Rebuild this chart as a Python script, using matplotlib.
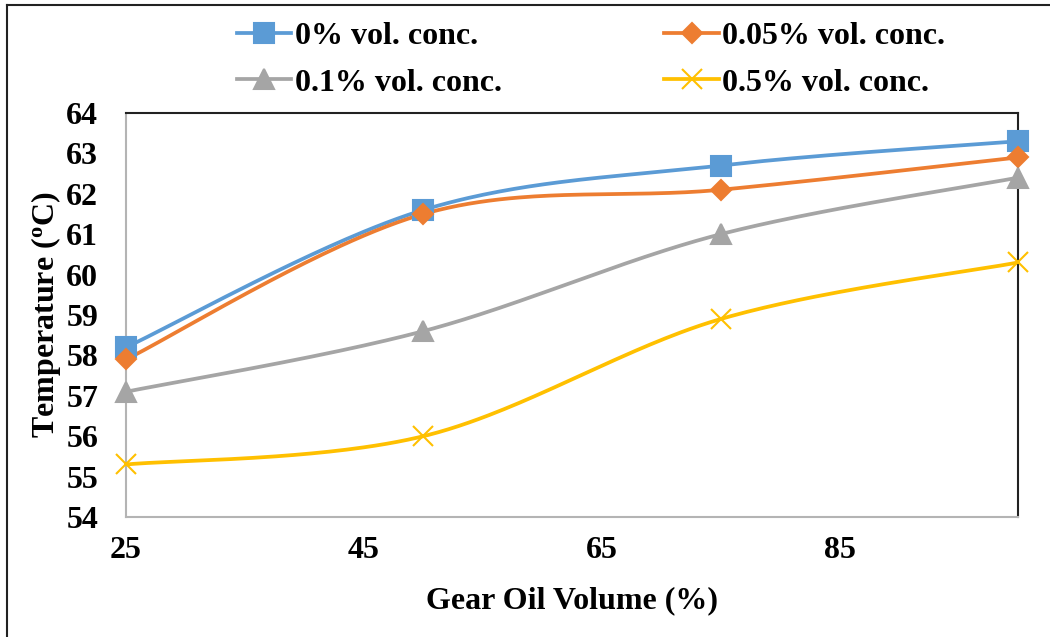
import numpy as np
import matplotlib
matplotlib.use("Agg")
import matplotlib.pyplot as plt
from matplotlib.lines import Line2D

plt.rcParams['font.family'] = ['Liberation Serif', 'DejaVu Serif']
plt.rcParams['font.weight'] = 'bold'

# Gear oil volume (%) and outlet temperature (deg C) per nanofluid concentration
oil_volume = [25, 50, 75, 100]
temp_0 = [58.2, 61.6, 62.7, 63.3]
temp_005 = [57.9, 61.5, 62.1, 62.9]
temp_01 = [57.1, 58.6, 61.0, 62.4]
temp_05 = [55.3, 56.0, 58.9, 60.3]

labels = ['0% vol. conc.', '0.05% vol. conc.', '0.1% vol. conc.', '0.5% vol. conc.']
colors = ['#5B9BD5', '#ED7D31', '#A5A5A5', '#FFC000']
markers = ['s', 'D', '^', 'x']
msizes = [14, 10, 14, 14]


def smooth(xs, ys, n=60):
    # Catmull-Rom style bezier smoothing (like a spreadsheet "smoothed line")
    p = np.column_stack([xs, ys]).astype(float)
    ext = np.vstack([p[0], p, p[-1]])
    t = np.linspace(0, 1, n)[:, None]
    out = []
    for i in range(len(p) - 1):
        p0, p1, p2, p3 = ext[i], ext[i + 1], ext[i + 2], ext[i + 3]
        c1 = p1 + (p2 - p0) / 6
        c2 = p2 - (p3 - p1) / 6
        seg = ((1 - t) ** 3) * p1 + 3 * ((1 - t) ** 2) * t * c1 + 3 * (1 - t) * t ** 2 * c2 + t ** 3 * p2
        out.append(seg if i == 0 else seg[1:])
    out = np.vstack(out)
    return out[:, 0], out[:, 1]


fig = plt.figure(figsize=(10.5, 6.37), dpi=100)
ax = fig.add_axes([126 / 1050, 1 - 517 / 637, (1018 - 126) / 1050, (517 - 113) / 637])

handles = []
for ys, lab, c, m, ms in zip([temp_0, temp_005, temp_01, temp_05], labels, colors, markers, msizes):
    sx, sy = smooth(oil_volume, ys)
    ax.plot(sx, sy, color=c, lw=2.7, solid_capstyle='round', zorder=2, clip_on=False)
    ax.plot(oil_volume, ys, linestyle='none', marker=m, ms=ms, color=c,
            mec=c, mew=1.5, zorder=3, clip_on=False)
    handles.append(Line2D([], [], color=c, lw=2.7, marker=m, ms=ms, mec=c, mew=1.5, label=lab))

ax.set_xlim(25, 100)
ax.set_ylim(54, 64)
ax.set_xticks([25, 45, 65, 85])
ax.set_yticks(range(54, 65))
ax.tick_params(length=0, labelsize=23)
ax.tick_params(axis='y', pad=20)
ax.tick_params(axis='x', pad=14)

for side in ['left', 'bottom']:
    ax.spines[side].set_color('#b4b4b4')
    ax.spines[side].set_linewidth(1.5)
for side in ['top', 'right']:
    ax.spines[side].set_color('#222222')
    ax.spines[side].set_linewidth(1.5)

ax.set_xlabel('Gear Oil Volume (%)', fontsize=23, fontweight='bold', labelpad=15)
ax.set_ylabel(r'Temperature ($\mathregular{^o}$C)', fontsize=23, fontweight='bold', labelpad=2)

# column-wise fill: 0% / 0.1% left, 0.05% / 0.5% right
order = [0, 2, 1, 3]
fig.legend([handles[i] for i in order], [labels[i] for i in order],
           loc='center', bbox_to_anchor=(591 / 1050, 1 - 59.5 / 637), ncol=2,
           frameon=False, fontsize=23, handlelength=1.7, handletextpad=0.1,
           columnspacing=5.1, labelspacing=0.55)

# outer frame lines
fig.add_artist(Line2D([7 / 1050, 7 / 1050], [0, 1 - 5 / 637], transform=fig.transFigure,
                      color='#222222', lw=1.5))
fig.add_artist(Line2D([7 / 1050, 1], [1 - 5 / 637, 1 - 5 / 637], transform=fig.transFigure,
                      color='#222222', lw=1.5))

fig.savefig('out.png', dpi=100)
